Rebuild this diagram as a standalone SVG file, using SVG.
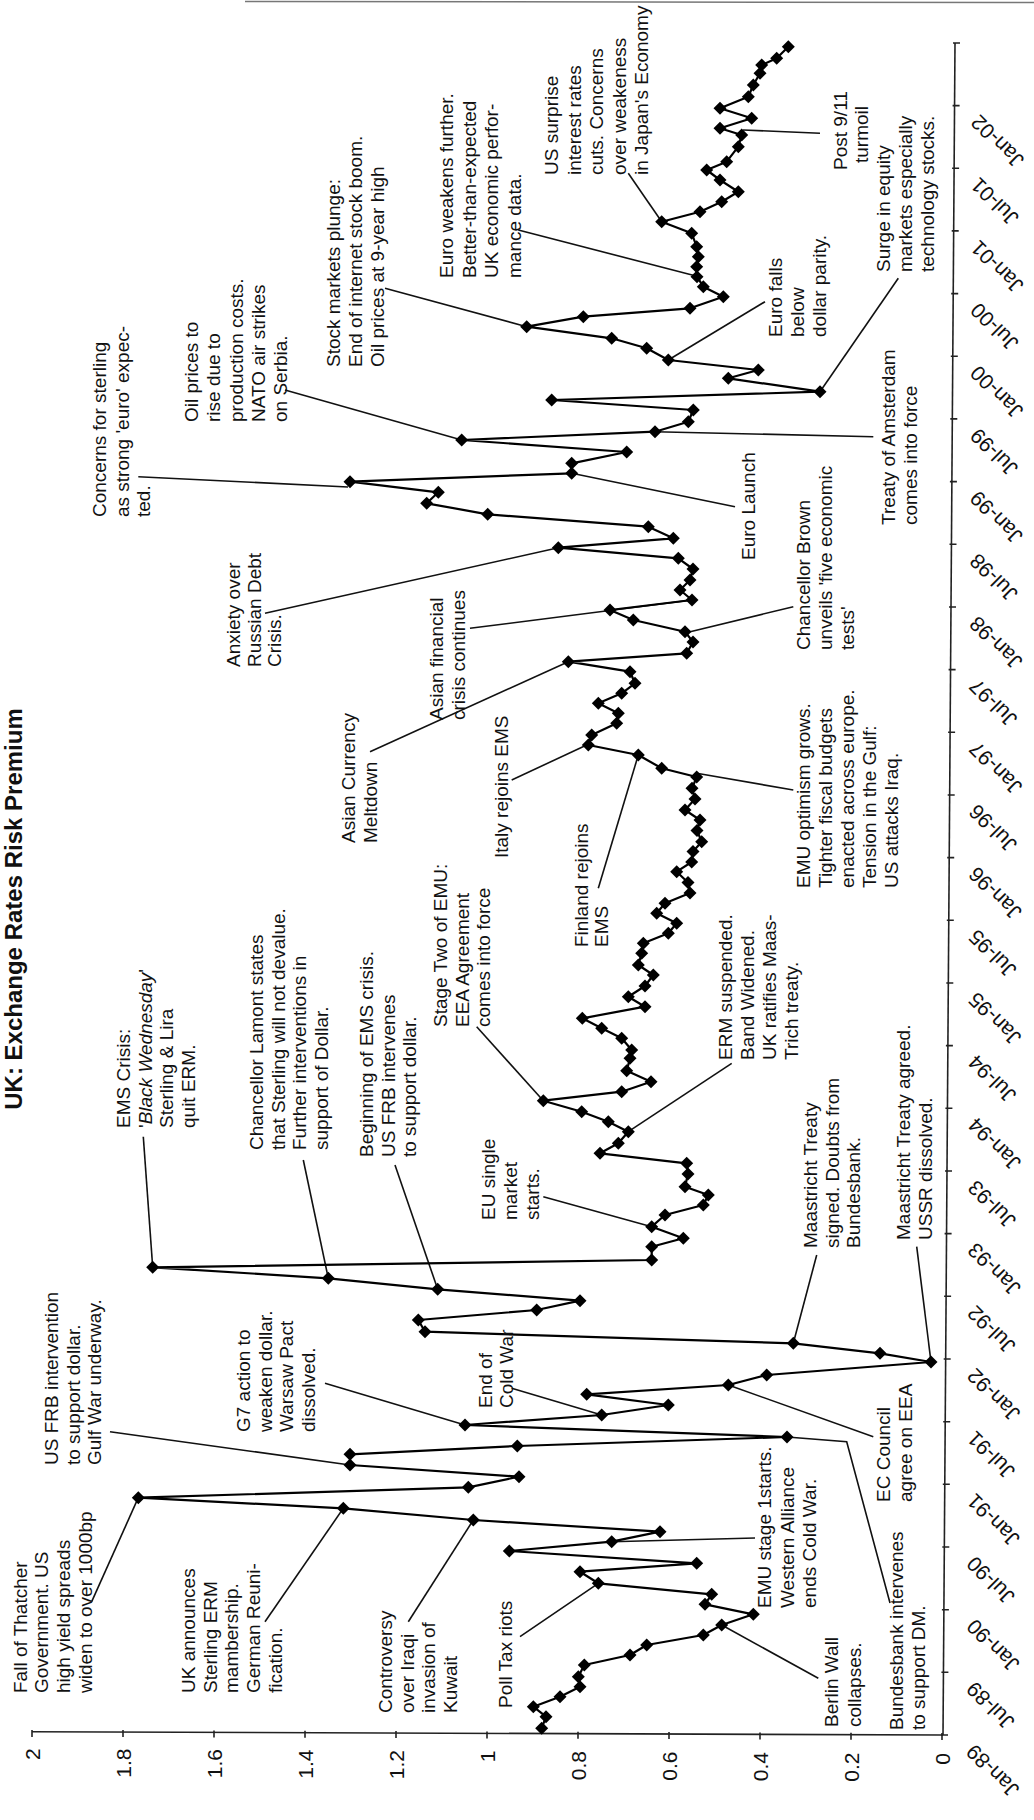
<svg xmlns="http://www.w3.org/2000/svg" xmlns:xlink="http://www.w3.org/1999/xlink" width="1034" height="1820" viewBox="0 0 1034 1820">
<style>
.lb{font-family:"Liberation Sans",Arial,sans-serif;font-size:19px;fill:#111}
.ax{font-family:"Liberation Sans",Arial,sans-serif;font-size:21px;fill:#111}
.tt{font-family:"Liberation Sans",Arial,sans-serif;font-size:24px;font-weight:bold;fill:#111}
.ld{stroke:#111;stroke-width:1.6;fill:none}
.sr{stroke:#000;stroke-width:2.2;fill:none;stroke-linejoin:round}
.axl{stroke:#222;stroke-width:1.6;fill:none}
</style>
<defs>
<path id="d" d="M0,-6.5L6.5,0L0,6.5L-6.5,0Z" fill="#000"/>
</defs>
<rect width="1034" height="1820" fill="#fff"/>
<line x1="245" y1="1.5" x2="1034" y2="2.5" stroke="#777" stroke-width="1.5"/>

<g id="title"><text class="tt" transform="translate(21.5 909) rotate(-90)" text-anchor="middle">UK: Exchange Rates Risk Premium</text></g>

<g id="value-axis">
<line class="axl" x1="32" y1="1731.7" x2="943" y2="1735"/>
<path class="axl" d="M32,1730v7M123,1730.1v7M214,1730.4v7M305,1730.7v7M396,1731v7M487,1731.4v7M578,1731.7v7M669,1732v7M760,1732.4v7M851,1732.7v7M942,1733v7"/>
<g class="ax" text-anchor="end">
<text transform="translate(39.5 1748.2) rotate(-90)">2</text>
<text transform="translate(130.5 1748.6) rotate(-90)">1.8</text>
<text transform="translate(221.5 1749.1) rotate(-90)">1.6</text>
<text transform="translate(312.5 1749.6) rotate(-90)">1.4</text>
<text transform="translate(403.5 1750.1) rotate(-90)">1.2</text>
<text transform="translate(494.5 1750.6) rotate(-90)">1</text>
<text transform="translate(585.5 1751.1) rotate(-90)">0.8</text>
<text transform="translate(676.5 1751.6) rotate(-90)">0.6</text>
<text transform="translate(767.5 1752) rotate(-90)">0.4</text>
<text transform="translate(858.5 1752.5) rotate(-90)">0.2</text>
<text transform="translate(949.5 1753) rotate(-90)">0</text>
</g>
</g>

<g id="time-axis">
<line class="axl" x1="943" y1="1735" x2="955" y2="43"/>
<path class="axl" d="M941,1735h7M941.4,1672.3h7M941.9,1609.7h7M942.3,1547h7M942.8,1484.3h7M943.2,1421.7h7M943.7,1359h7M944.1,1296.3h7M944.6,1233.6h7M945,1171h7M945.4,1108.3h7M945.9,1045.6h7M946.3,983h7M946.8,920.3h7M947.2,857.6h7M947.7,795h7M948.1,732.3h7M948.6,669.6h7M949,607h7M949.5,544.3h7M949.9,481.6h7M950.3,418.9h7M950.8,356.3h7M951.2,293.6h7M951.7,230.9h7M952.1,168.3h7M952.6,105.6h7M953,43h7"/>
<g class="ax" text-anchor="end">
<text transform="translate(975 1743) rotate(-135)">Jan-89</text>
<text transform="translate(975.2 1680.3) rotate(-135)">Jul-89</text>
<text transform="translate(975.4 1617.7) rotate(-135)">Jan-90</text>
<text transform="translate(975.6 1555) rotate(-135)">Jul-90</text>
<text transform="translate(975.7 1492.3) rotate(-135)">Jan-91</text>
<text transform="translate(975.9 1429.7) rotate(-135)">Jul-91</text>
<text transform="translate(976.1 1367) rotate(-135)">Jan-92</text>
<text transform="translate(976.3 1304.3) rotate(-135)">Jul-92</text>
<text transform="translate(976.5 1241.6) rotate(-135)">Jan-93</text>
<text transform="translate(976.7 1179) rotate(-135)">Jul-93</text>
<text transform="translate(976.9 1116.3) rotate(-135)">Jan-94</text>
<text transform="translate(977 1053.6) rotate(-135)">Jul-94</text>
<text transform="translate(977.2 991) rotate(-135)">Jan-95</text>
<text transform="translate(977.4 928.3) rotate(-135)">Jul-95</text>
<text transform="translate(977.6 865.6) rotate(-135)">Jan-96</text>
<text transform="translate(977.8 803) rotate(-135)">Jul-96</text>
<text transform="translate(978 740.3) rotate(-135)">Jan-97</text>
<text transform="translate(978.1 677.6) rotate(-135)">Jul-97</text>
<text transform="translate(978.3 615) rotate(-135)">Jan-98</text>
<text transform="translate(978.5 552.3) rotate(-135)">Jul-98</text>
<text transform="translate(978.7 489.6) rotate(-135)">Jan-99</text>
<text transform="translate(978.9 426.9) rotate(-135)">Jul-99</text>
<text transform="translate(979.1 364.3) rotate(-135)">Jan-00</text>
<text transform="translate(979.3 301.6) rotate(-135)">Jul-00</text>
<text transform="translate(979.4 238.9) rotate(-135)">Jan-01</text>
<text transform="translate(979.6 176.3) rotate(-135)">Jul-01</text>
<text transform="translate(979.8 113.6) rotate(-135)">Jan-02</text>
</g>
</g>

<g id="connectors">
<path class="ld" d="M91.7,1601.7L138.3,1497.7"/>
<path class="ld" d="M265,1621.7L343.3,1508.3"/>
<path class="ld" d="M110,1431.7L350,1465"/>
<path class="ld" d="M325,1383.3L465,1425"/>
<path class="ld" d="M511.7,1388.3L601.7,1415"/>
<path class="ld" d="M408.3,1621.7L473.3,1520"/>
<path class="ld" d="M520,1636.7L598.3,1583.3"/>
<path class="ld" d="M755,1538L611.7,1541.7"/>
<path class="ld" d="M818.3,1678.3L721.7,1625"/>
<path class="ld" d="M890,1603L846.7,1441.7L787,1437"/>
<path class="ld" d="M873.3,1436.7L728.3,1385"/>
<path class="ld" d="M816.7,1255L793.3,1343.3"/>
<path class="ld" d="M916.7,1246.7L931,1362"/>
<path class="ld" d="M731.7,1063.3L628.3,1131.7"/>
<path class="ld" d="M476.7,1026.7L543.3,1100.7"/>
<path class="ld" d="M543.3,1196.7L651.7,1226.7"/>
<path class="ld" d="M395,1165L437.7,1289.3"/>
<path class="ld" d="M303.3,1160L328.3,1278.3"/>
<path class="ld" d="M143.3,1136.7L152.7,1267.3"/>
<path class="ld" d="M265,613.3L558.3,547.7"/>
<path class="ld" d="M370,751.7L568.3,661.7"/>
<path class="ld" d="M470,628.3L692,600"/>
<path class="ld" d="M511.7,780L586.7,745"/>
<path class="ld" d="M598.3,888.3L638.3,755"/>
<path class="ld" d="M793.3,790L696.7,773.3"/>
<path class="ld" d="M793.3,606.7L685,633"/>
<path class="ld" d="M735,506.7L571.7,473.3"/>
<path class="ld" d="M873.3,436.7L655,431.7"/>
<path class="ld" d="M138.3,476.7L348,487"/>
<path class="ld" d="M285,390L461.7,440"/>
<path class="ld" d="M385,288.3L526.7,326.7"/>
<path class="ld" d="M518.3,230L696,276"/>
<path class="ld" d="M628.3,173.3L661.7,221.7"/>
<path class="ld" d="M765,301.7L668.3,360"/>
<path class="ld" d="M898.3,278.3L820,391.7"/>
<path class="ld" d="M820,133.3L743,130"/>
</g>

<g id="series">
<polyline class="sr" points="541.7,1728.3 546,1716.7 533.3,1706.7 560,1696.7 580,1686.7 578.3,1676.7 584.3,1665 630,1655 646.7,1645 703.3,1635 721.7,1625 753.3,1614.3 705,1604.3 711.7,1594.3 598.3,1583.3 580,1571.7 696.7,1563.3 509.3,1551 611.7,1541.7 660,1531.7 473.3,1520 343.3,1508.3 138.3,1497.7 468.3,1487.3 519,1476.7 350,1465 350,1454.3 517.3,1446 787,1437 465,1425 601.7,1415 668.3,1405 586.7,1394.3 728.3,1385 766.7,1375 931,1362 880,1353.3 793.3,1343.3 425,1331.7 418.3,1320 536.7,1310 580,1300.7 437.7,1289.3 328.3,1278.3 152.7,1267.3 651.7,1260 651.7,1246.7 683.3,1238.3 651.7,1226.7 665,1215 703.3,1205 708.3,1195 685,1186.7 688,1174 686.7,1163.3 600,1153.3 618.3,1143.3 628.3,1131.7 608.3,1121.7 581.7,1111.7 543.3,1100.7 621.7,1091.7 651,1081.7 626.7,1070.7 630,1058.3 631.7,1050 621.7,1038.3 601.7,1028.3 582.3,1018.3 645,1006.7 628.3,996.7 645,986 653.3,975 638.3,965 641.7,953.3 643.3,943.3 668.3,933.3 676.7,923.3 656.7,913.3 665,903.3 690,893 688,882.5 676.7,871.7 691.7,862 693,851.5 701.7,841.7 697,830.5 700,820 685,810 695,799 692,788.3 696.7,777 661.7,768.3 638.3,755 588.3,745 591.7,735 616.7,723.3 618.3,713.3 598.3,703.3 621.7,693.3 635,683.3 630,671.7 568.3,661.7 686.7,653.3 693,642 685,631.7 633.3,620 610,610 692,600 680,590 690,580 693,569 678.3,558.3 558.3,547.7 673.3,538.3 648.3,526.7 487.7,514.3 426.7,503.3 438.3,492.3 350,481.7 571.7,473.3 571.7,463.3 626.7,452 461.7,440 655,431.7 688.3,421.7 693.3,410 551.7,400 820,391.7 728.3,378.3 758.3,370 668.3,360 646.7,348.3 611.7,338.3 526.7,326.7 583.3,316.7 690,308.3 723.3,296.7 703.3,286.7 697,276.7 696.7,266.7 698.3,256.7 696.7,246.7 691.7,233.3 661.7,221.7 700,211.7 721.7,201.7 738.3,191.7 720,180 706.7,170 726.7,161.7 738.3,146.7 741.7,135 720,128.3 751.7,118.3 720,108.3 748.3,96.7 753.3,85 760,73.3 761.7,65 776.7,58.3 788.3,46.7"/>
<g id="markers">
<use href="#d" x="541.7" y="1728.3"/><use href="#d" x="546" y="1716.7"/><use href="#d" x="533.3" y="1706.7"/><use href="#d" x="560" y="1696.7"/><use href="#d" x="580" y="1686.7"/><use href="#d" x="578.3" y="1676.7"/><use href="#d" x="584.3" y="1665"/><use href="#d" x="630" y="1655"/><use href="#d" x="646.7" y="1645"/><use href="#d" x="703.3" y="1635"/>
<use href="#d" x="721.7" y="1625"/><use href="#d" x="753.3" y="1614.3"/><use href="#d" x="705" y="1604.3"/><use href="#d" x="711.7" y="1594.3"/><use href="#d" x="598.3" y="1583.3"/><use href="#d" x="580" y="1571.7"/><use href="#d" x="696.7" y="1563.3"/><use href="#d" x="509.3" y="1551"/><use href="#d" x="611.7" y="1541.7"/><use href="#d" x="660" y="1531.7"/>
<use href="#d" x="473.3" y="1520"/><use href="#d" x="343.3" y="1508.3"/><use href="#d" x="138.3" y="1497.7"/><use href="#d" x="468.3" y="1487.3"/><use href="#d" x="519" y="1476.7"/><use href="#d" x="350" y="1465"/><use href="#d" x="350" y="1454.3"/><use href="#d" x="517.3" y="1446"/><use href="#d" x="787" y="1437"/><use href="#d" x="465" y="1425"/>
<use href="#d" x="601.7" y="1415"/><use href="#d" x="668.3" y="1405"/><use href="#d" x="586.7" y="1394.3"/><use href="#d" x="728.3" y="1385"/><use href="#d" x="766.7" y="1375"/><use href="#d" x="931" y="1362"/><use href="#d" x="880" y="1353.3"/><use href="#d" x="793.3" y="1343.3"/><use href="#d" x="425" y="1331.7"/><use href="#d" x="418.3" y="1320"/>
<use href="#d" x="536.7" y="1310"/><use href="#d" x="580" y="1300.7"/><use href="#d" x="437.7" y="1289.3"/><use href="#d" x="328.3" y="1278.3"/><use href="#d" x="152.7" y="1267.3"/><use href="#d" x="651.7" y="1260"/><use href="#d" x="651.7" y="1246.7"/><use href="#d" x="683.3" y="1238.3"/><use href="#d" x="651.7" y="1226.7"/><use href="#d" x="665" y="1215"/>
<use href="#d" x="703.3" y="1205"/><use href="#d" x="708.3" y="1195"/><use href="#d" x="685" y="1186.7"/><use href="#d" x="688" y="1174"/><use href="#d" x="686.7" y="1163.3"/><use href="#d" x="600" y="1153.3"/><use href="#d" x="618.3" y="1143.3"/><use href="#d" x="628.3" y="1131.7"/><use href="#d" x="608.3" y="1121.7"/><use href="#d" x="581.7" y="1111.7"/>
<use href="#d" x="543.3" y="1100.7"/><use href="#d" x="621.7" y="1091.7"/><use href="#d" x="651" y="1081.7"/><use href="#d" x="626.7" y="1070.7"/><use href="#d" x="630" y="1058.3"/><use href="#d" x="631.7" y="1050"/><use href="#d" x="621.7" y="1038.3"/><use href="#d" x="601.7" y="1028.3"/><use href="#d" x="582.3" y="1018.3"/><use href="#d" x="645" y="1006.7"/>
<use href="#d" x="628.3" y="996.7"/><use href="#d" x="645" y="986"/><use href="#d" x="653.3" y="975"/><use href="#d" x="638.3" y="965"/><use href="#d" x="641.7" y="953.3"/><use href="#d" x="643.3" y="943.3"/><use href="#d" x="668.3" y="933.3"/><use href="#d" x="676.7" y="923.3"/><use href="#d" x="656.7" y="913.3"/><use href="#d" x="665" y="903.3"/>
<use href="#d" x="690" y="893"/><use href="#d" x="688" y="882.5"/><use href="#d" x="676.7" y="871.7"/><use href="#d" x="691.7" y="862"/><use href="#d" x="693" y="851.5"/><use href="#d" x="701.7" y="841.7"/><use href="#d" x="697" y="830.5"/><use href="#d" x="700" y="820"/><use href="#d" x="685" y="810"/><use href="#d" x="695" y="799"/>
<use href="#d" x="692" y="788.3"/><use href="#d" x="696.7" y="777"/><use href="#d" x="661.7" y="768.3"/><use href="#d" x="638.3" y="755"/><use href="#d" x="588.3" y="745"/><use href="#d" x="591.7" y="735"/><use href="#d" x="616.7" y="723.3"/><use href="#d" x="618.3" y="713.3"/><use href="#d" x="598.3" y="703.3"/><use href="#d" x="621.7" y="693.3"/>
<use href="#d" x="635" y="683.3"/><use href="#d" x="630" y="671.7"/><use href="#d" x="568.3" y="661.7"/><use href="#d" x="686.7" y="653.3"/><use href="#d" x="693" y="642"/><use href="#d" x="685" y="631.7"/><use href="#d" x="633.3" y="620"/><use href="#d" x="610" y="610"/><use href="#d" x="692" y="600"/><use href="#d" x="680" y="590"/>
<use href="#d" x="690" y="580"/><use href="#d" x="693" y="569"/><use href="#d" x="678.3" y="558.3"/><use href="#d" x="558.3" y="547.7"/><use href="#d" x="673.3" y="538.3"/><use href="#d" x="648.3" y="526.7"/><use href="#d" x="487.7" y="514.3"/><use href="#d" x="426.7" y="503.3"/><use href="#d" x="438.3" y="492.3"/><use href="#d" x="350" y="481.7"/>
<use href="#d" x="571.7" y="473.3"/><use href="#d" x="571.7" y="463.3"/><use href="#d" x="626.7" y="452"/><use href="#d" x="461.7" y="440"/><use href="#d" x="655" y="431.7"/><use href="#d" x="688.3" y="421.7"/><use href="#d" x="693.3" y="410"/><use href="#d" x="551.7" y="400"/><use href="#d" x="820" y="391.7"/><use href="#d" x="728.3" y="378.3"/>
<use href="#d" x="758.3" y="370"/><use href="#d" x="668.3" y="360"/><use href="#d" x="646.7" y="348.3"/><use href="#d" x="611.7" y="338.3"/><use href="#d" x="526.7" y="326.7"/><use href="#d" x="583.3" y="316.7"/><use href="#d" x="690" y="308.3"/><use href="#d" x="723.3" y="296.7"/><use href="#d" x="703.3" y="286.7"/><use href="#d" x="697" y="276.7"/>
<use href="#d" x="696.7" y="266.7"/><use href="#d" x="698.3" y="256.7"/><use href="#d" x="696.7" y="246.7"/><use href="#d" x="691.7" y="233.3"/><use href="#d" x="661.7" y="221.7"/><use href="#d" x="700" y="211.7"/><use href="#d" x="721.7" y="201.7"/><use href="#d" x="738.3" y="191.7"/><use href="#d" x="720" y="180"/><use href="#d" x="706.7" y="170"/>
<use href="#d" x="726.7" y="161.7"/><use href="#d" x="738.3" y="146.7"/><use href="#d" x="741.7" y="135"/><use href="#d" x="720" y="128.3"/><use href="#d" x="751.7" y="118.3"/><use href="#d" x="720" y="108.3"/><use href="#d" x="748.3" y="96.7"/><use href="#d" x="753.3" y="85"/><use href="#d" x="760" y="73.3"/><use href="#d" x="761.7" y="65"/>
<use href="#d" x="776.7" y="58.3"/><use href="#d" x="788.3" y="46.7"/>
</g>
</g>

<g id="labels" class="lb">
<g id="n-thatcher"><text transform="translate(26.5 1693) rotate(-90)"><tspan x="0" y="0">Fall of Thatcher</tspan><tspan x="0" y="21.7">Government. US</tspan><tspan x="0" y="43.4">high yield spreads</tspan><tspan x="0" y="65.1">widen to over 1000bp</tspan></text></g>
<g id="n-ukerm"><text transform="translate(195 1693) rotate(-90)"><tspan x="0" y="0">UK announces</tspan><tspan x="0" y="21.7">Sterling ERM</tspan><tspan x="0" y="43.4">mambership.</tspan><tspan x="0" y="65.1">German Reuni-</tspan><tspan x="0" y="86.8">fication.</tspan></text></g>
<g id="n-usfrb-gulf"><text transform="translate(58 1465) rotate(-90)"><tspan x="0" y="0">US FRB intervention</tspan><tspan x="0" y="21.7">to support dollar.</tspan><tspan x="0" y="43.4">Gulf War underway.</tspan></text></g>
<g id="n-g7"><text transform="translate(250 1432) rotate(-90)"><tspan x="0" y="0">G7 action to</tspan><tspan x="0" y="21.7">weaken dollar.</tspan><tspan x="0" y="43.4">Warsaw Pact</tspan><tspan x="0" y="65.1">dissolved.</tspan></text></g>
<g id="n-kuwait"><text transform="translate(392 1713) rotate(-90)"><tspan x="0" y="0">Controversy</tspan><tspan x="0" y="21.7">over Iraqi</tspan><tspan x="0" y="43.4">invasion of</tspan><tspan x="0" y="65.1">Kuwait</tspan></text></g>
<g id="n-polltax"><text transform="translate(511.7 1708) rotate(-90)">Poll Tax riots</text></g>
<g id="n-coldwar"><text transform="translate(491.7 1408) rotate(-90)"><tspan x="0" y="0">End of</tspan><tspan x="0" y="21.5">Cold War</tspan></text></g>
<g id="n-emu1"><text transform="translate(771 1608) rotate(-90)"><tspan x="0" y="0">EMU stage 1starts.</tspan><tspan x="0" y="22.5">Western Alliance</tspan><tspan x="0" y="45">ends Cold War.</tspan></text></g>
<g id="n-berlin"><text transform="translate(838 1727) rotate(-90)"><tspan x="0" y="0">Berlin Wall</tspan><tspan x="0" y="23">collapses.</tspan></text></g>
<g id="n-bundesbank"><text transform="translate(903 1730) rotate(-90)"><tspan x="0" y="0">Bundesbank intervenes</tspan><tspan x="0" y="22">to support DM.</tspan></text></g>
<g id="n-eccouncil"><text transform="translate(890 1502) rotate(-90)"><tspan x="0" y="0">EC Council</tspan><tspan x="0" y="22">agree on EEA</tspan></text></g>
<g id="n-maas-signed"><text transform="translate(817 1248) rotate(-90)"><tspan x="0" y="0">Maastricht Treaty</tspan><tspan x="0" y="21.5">signed. Doubts from</tspan><tspan x="0" y="43">Bundesbank.</tspan></text></g>
<g id="n-maas-agreed"><text transform="translate(910 1240) rotate(-90)"><tspan x="0" y="0">Maastricht Treaty agreed.</tspan><tspan x="0" y="22">USSR dissolved.</tspan></text></g>
<g id="n-erm"><text transform="translate(732 1060) rotate(-90)"><tspan x="0" y="0">ERM suspended.</tspan><tspan x="0" y="22">Band Widened.</tspan><tspan x="0" y="44">UK ratifies Maas-</tspan><tspan x="0" y="66">Trich treaty.</tspan></text></g>
<g id="n-stage2"><text transform="translate(447 1027) rotate(-90)"><tspan x="0" y="0">Stage Two of EMU:</tspan><tspan x="0" y="21.5">EEA Agreement</tspan><tspan x="0" y="43">comes into force</tspan></text></g>
<g id="n-eusingle"><text transform="translate(495 1220) rotate(-90)"><tspan x="0" y="0">EU single</tspan><tspan x="0" y="22">market</tspan><tspan x="0" y="44">starts.</tspan></text></g>
<g id="n-ems-begin"><text transform="translate(373 1157) rotate(-90)"><tspan x="0" y="0">Beginning of EMS crisis.</tspan><tspan x="0" y="21.5">US FRB intervenes</tspan><tspan x="0" y="43">to support dollar.</tspan></text></g>
<g id="n-lamont"><text transform="translate(263 1150) rotate(-90)"><tspan x="0" y="0">Chancellor Lamont states</tspan><tspan x="0" y="21.7">that Sterling will not devalue.</tspan><tspan x="0" y="43.4">Further interventions in</tspan><tspan x="0" y="65.1">support of Dollar.</tspan></text></g>
<g id="n-blackwed"><text transform="translate(130 1128) rotate(-90)"><tspan x="0" y="0">EMS Crisis:</tspan><tspan x="0" y="21.7">'<tspan font-style="italic">Black Wednesday</tspan>'</tspan><tspan x="0" y="43.4">Sterling &amp; Lira</tspan><tspan x="0" y="65.1">quit ERM.</tspan></text></g>
<g id="n-russia"><text transform="translate(240 667) rotate(-90)"><tspan x="0" y="0">Anxiety over</tspan><tspan x="0" y="20.5">Russian Debt</tspan><tspan x="0" y="41">Crisis.</tspan></text></g>
<g id="n-asiacur"><text transform="translate(355 843) rotate(-90)"><tspan x="0" y="0">Asian Currency</tspan><tspan x="0" y="22">Meltdown</tspan></text></g>
<g id="n-asiafin"><text transform="translate(443 720) rotate(-90)"><tspan x="0" y="0">Asian financial</tspan><tspan x="0" y="22">crisis continues</tspan></text></g>
<g id="n-italy"><text transform="translate(508 858) rotate(-90)">Italy rejoins EMS</text></g>
<g id="n-finland"><text transform="translate(588 947) rotate(-90)"><tspan x="0" y="0">Finland rejoins</tspan><tspan x="0" y="20">EMS</tspan></text></g>
<g id="n-emuopt"><text transform="translate(810 888) rotate(-90)"><tspan x="0" y="0">EMU optimism grows.</tspan><tspan x="0" y="22">Tighter fiscal budgets</tspan><tspan x="0" y="44">enacted across europe.</tspan><tspan x="0" y="66">Tension in the Gulf:</tspan><tspan x="0" y="88">US attacks Iraq.</tspan></text></g>
<g id="n-brown"><text transform="translate(810 650) rotate(-90)"><tspan x="0" y="0">Chancellor Brown</tspan><tspan x="0" y="22">unveils 'five economic</tspan><tspan x="0" y="44">tests'</tspan></text></g>
<g id="n-eurolaunch"><text transform="translate(755 560) rotate(-90)">Euro Launch</text></g>
<g id="n-amsterdam"><text transform="translate(895 525) rotate(-90)"><tspan x="0" y="0">Treaty of Amsterdam</tspan><tspan x="0" y="22">comes into force</tspan></text></g>
<g id="n-concerns"><text transform="translate(106 517) rotate(-90)"><tspan x="0" y="0">Concerns for sterling</tspan><tspan x="0" y="22.5">as strong 'euro' expec-</tspan><tspan x="0" y="44">ted.</tspan></text></g>
<g id="n-oil"><text transform="translate(198 422) rotate(-90)"><tspan x="0" y="0">Oil prices to</tspan><tspan x="0" y="22.25">rise due to</tspan><tspan x="0" y="44.5">production costs.</tspan><tspan x="0" y="66.75">NATO air strikes</tspan><tspan x="0" y="89">on Serbia.</tspan></text></g>
<g id="n-stock"><text transform="translate(340 367) rotate(-90)"><tspan x="0" y="0">Stock markets plunge:</tspan><tspan x="0" y="22">End of internet stock boom.</tspan><tspan x="0" y="44">Oil prices at 9-year high</tspan></text></g>
<g id="n-euroweak"><text transform="translate(453 278) rotate(-90)"><tspan x="0" y="0">Euro weakens further.</tspan><tspan x="0" y="22.7">Better-than-expected</tspan><tspan x="0" y="45.4">UK economic perfor-</tspan><tspan x="0" y="68.1">mance data.</tspan></text></g>
<g id="n-ussurprise"><text transform="translate(558 175) rotate(-90)"><tspan x="0" y="0">US surprise</tspan><tspan x="0" y="22.5">interest rates</tspan><tspan x="0" y="45">cuts. Concerns</tspan><tspan x="0" y="67.5">over weakeness</tspan><tspan x="0" y="90">in Japan's Economy</tspan></text></g>
<g id="n-eurofalls"><text transform="translate(782 337) rotate(-90)"><tspan x="0" y="0">Euro falls</tspan><tspan x="0" y="22">below</tspan><tspan x="0" y="44">dollar parity.</tspan></text></g>
<g id="n-surge"><text transform="translate(890 272) rotate(-90)"><tspan x="0" y="0">Surge in equity</tspan><tspan x="0" y="22">markets especially</tspan><tspan x="0" y="44">technology stocks.</tspan></text></g>
<g id="n-post911"><text transform="translate(847 170) rotate(-90)">Post 9/11</text><text transform="translate(868 163) rotate(-90)">turmoil</text></g>
</g>
</svg>
